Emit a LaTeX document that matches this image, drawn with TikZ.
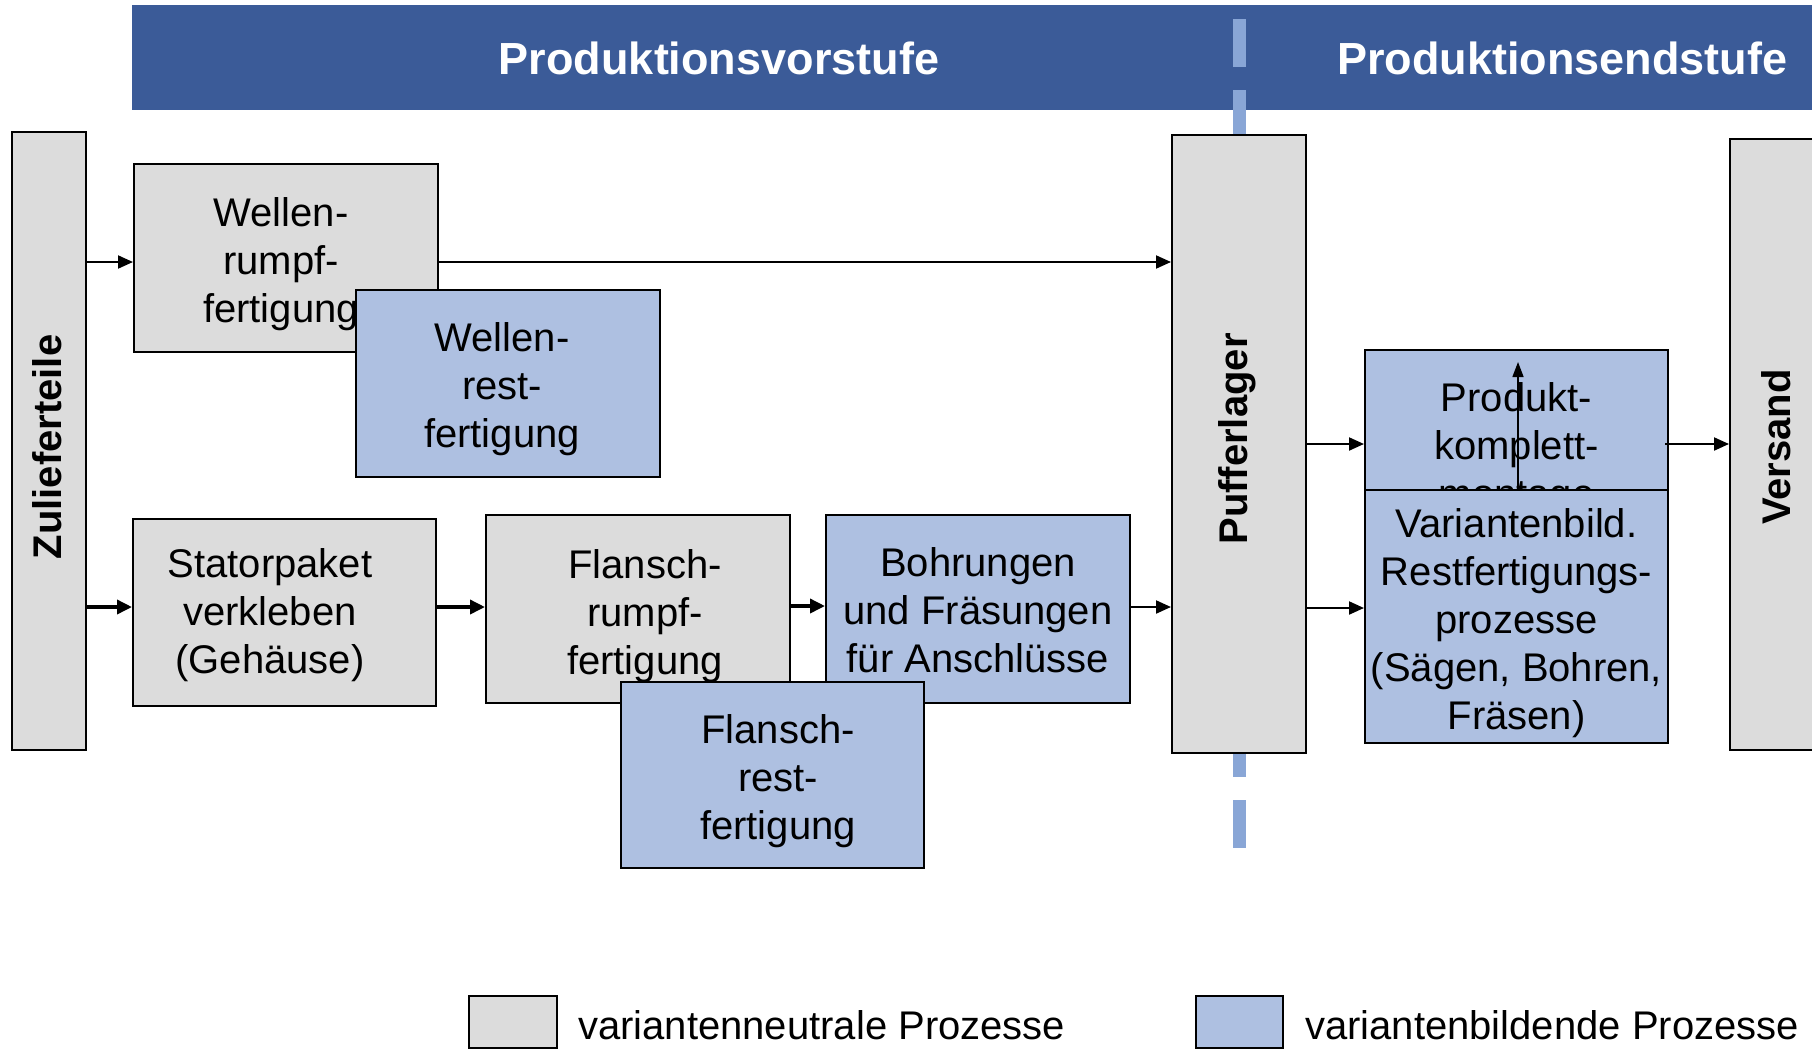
\documentclass[tikz,border=0pt]{standalone}
\usepackage{fontspec}
\setmainfont{Liberation Sans}
\usetikzlibrary{arrows.meta}
\definecolor{hdr}{RGB}{59,91,152}
\definecolor{dashc}{RGB}{137,166,214}
\definecolor{grayfill}{RGB}{220,220,220}
\definecolor{bluefill}{RGB}{174,192,225}
\begin{document}
\begin{tikzpicture}[x=1pt,y=-1pt,
 box/.style={draw=black,line width=2pt,inner sep=0pt},
 gbox/.style={box,fill=grayfill},
 bbox/.style={box,fill=bluefill},
 btext/.style={inner sep=0pt,align=center,font=\fontsize{40}{48}\selectfont},
 arr/.style={line width=2pt,-{Triangle[length=15pt,width=13pt]}},
 thickarr/.style={line width=3.5pt,-{Triangle[length=15pt,width=14pt]}},
 hdrtext/.style={text=white,font=\bfseries\fontsize{45}{54}\selectfont},
 vlabel/.style={rotate=90,font=\bfseries\fontsize{40}{48}\selectfont},
 legtext/.style={anchor=west,inner sep=0pt,font=\fontsize{40}{48}\selectfont}]
\useasboundingbox (0,0) rectangle (1812,1050);
\clip (0,0) rectangle (1812,1050);
% header
\fill[hdr] (132,5) rectangle (1812,110);
\node[hdrtext] (hv) at (719,58) {Produktionsvorstufe};
\node[hdrtext] (he) at (1562,58) {Produktionsendstufe};
% dashed separator
\draw[dashc, line width=13pt, dash pattern=on 48pt off 23pt] (1239,19) -- (1239,850);
% boxes
\node[gbox, minimum width=74pt, minimum height=618pt] (zul) at (49,441) {};
\node[vlabel] (zult) at (47,447) {Zulieferteile};
\node[gbox, minimum width=304pt, minimum height=188pt] (wr) at (286,258) {};
\node[btext] (wrt) at (281,264) {Wellen-\\rumpf-\\fertigung};
\node[bbox, minimum width=304pt, minimum height=187pt] (wrest) at (508,383.5) {};
\node[btext] (wrestt) at (502,389.5) {Wellen-\\rest-\\fertigung};
\node[gbox, minimum width=303pt, minimum height=187pt] (st) at (284.5,612.5) {};
\node[btext] (stt) at (270,615.5) {Statorpaket\\verkleben\\(Gehäuse)};
\node[gbox, minimum width=304pt, minimum height=188pt] (fr) at (638,609) {};
\node[btext] (frt) at (645,616) {Flansch-\\rumpf-\\fertigung};
\node[bbox, minimum width=304pt, minimum height=188pt] (bo) at (978,609) {};
\node[btext] (bot) at (978,610) {Bohrungen\\und Fräsungen\\für Anschlüsse};
\node[bbox, minimum width=303pt, minimum height=186pt] (frest) at (772,775) {};
\node[btext] (frestt) at (778,781) {Flansch-\\rest-\\fertigung};
\node[gbox, minimum width=134pt, minimum height=618pt] (pl) at (1239,444) {};
\node[vlabel] (plt) at (1237,439) {Pufferlager};
\node[bbox, minimum width=303pt, minimum height=192pt] (pk) at (1516.5,446) {};
\node[btext] (pkt) at (1516.5,449.5) {Produkt-\\komplett-\\montage};
\node[bbox, minimum width=303pt, minimum height=253pt] (vb) at (1516.5,616.5) {};
\node[btext] (vbt) at (1516.5,623.5) {Variantenbild.\\Restfertigungs-\\prozesse\\(Sägen, Bohren,\\Fräsen)};
\node[gbox, minimum width=92pt, minimum height=611pt] (vs) at (1776,444.5) {};
\node[vlabel] (vst) at (1776,447) {Versand};
% connectors
\draw[arr] (zul.east |- 0,262) -- (wr.west |- 0,262);
\draw[arr] (wr.east |- 0,262) -- (pl.west |- 0,262);
\draw[thickarr] (zul.east |- 0,607) -- (st.west |- 0,607);
\draw[thickarr] (st.east |- 0,607) -- (fr.west |- 0,607);
\draw[thickarr] (fr.east |- 0,606) -- (bo.west |- 0,606);
\draw[arr] (bo.east |- 0,607) -- (pl.west |- 0,607);
\draw[arr] (pl.east |- 0,444) -- (pk.west |- 0,444);
\draw[arr] (pl.east |- 0,608) -- (vb.west |- 0,608);
\draw[arr] ([xshift=-4pt]pk.east |- 0,444) -- (vs.west |- 0,444);
\coordinate (uptip) at (1518,362);
\draw[line width=1.5pt,-{Triangle[length=15pt,width=11pt]}] (vb.north -| uptip) -- (uptip);
% legend
\node[draw=black, line width=2pt, fill=grayfill, minimum width=88pt, minimum height=52pt, inner sep=0pt] (lg) at (513,1022) {};
\node[legtext] (lgt) at (578,1025) {variantenneutrale Prozesse};
\node[draw=black, line width=2pt, fill=bluefill, minimum width=87pt, minimum height=52pt, inner sep=0pt] (lb) at (1239.5,1022) {};
\node[legtext] (lbt) at (1305,1025) {variantenbildende Prozesse};
\end{tikzpicture}
\end{document}
